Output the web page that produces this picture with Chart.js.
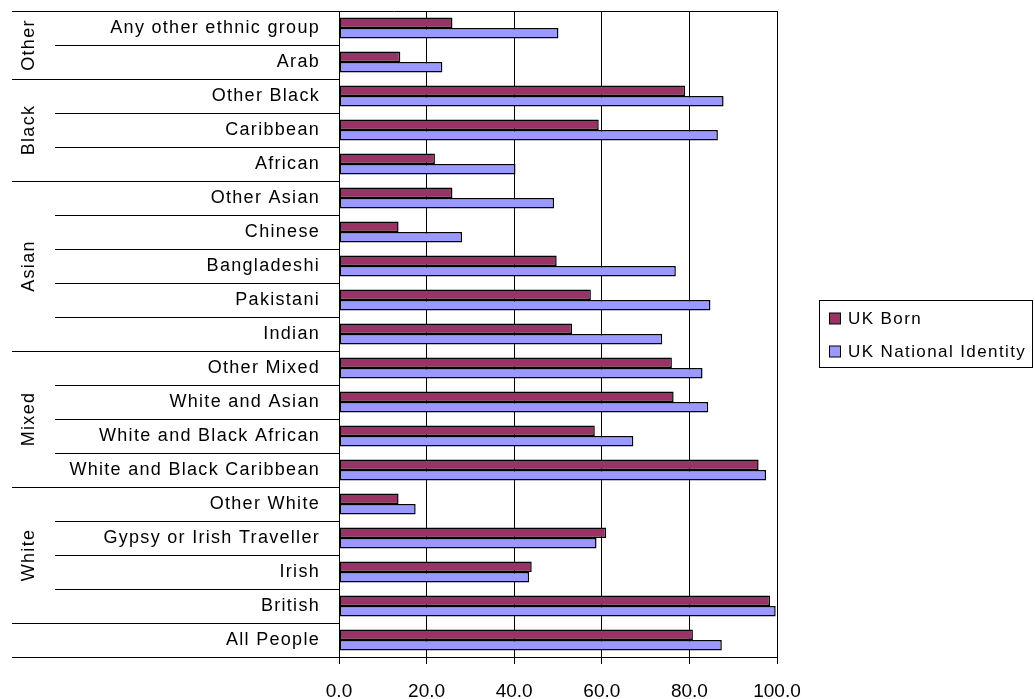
<!DOCTYPE html>
<html>
<head>
<meta charset="utf-8">
<script src="https://cdn.jsdelivr.net/npm/chart.js@4/dist/chart.umd.min.js"></script>
<style>
  html, body { margin: 0; padding: 0; background: #fff; }
  #wrap { width: 1035px; height: 699px; position: relative; }
</style>
</head>
<body>
<div id="wrap"><canvas id="chart"></canvas></div>
<script>
// top to bottom, as in the picture
const categories = [
    'Any other ethnic group', 'Arab',
    'Other Black', 'Caribbean', 'African',
    'Other Asian', 'Chinese', 'Bangladeshi', 'Pakistani', 'Indian',
    'Other Mixed', 'White and Asian', 'White and Black African', 'White and Black Caribbean',
    'Other White', 'Gypsy or Irish Traveller', 'Irish', 'British',
    'All People'
];

const groupNames = ['Other', 'Black', 'Asian', 'Mixed', 'White', ''];
const groupSizes = [2, 3, 5, 4, 4, 1];

const ukBorn = [25.9, 14.0, 79.0, 59.3, 21.9, 25.9, 13.6, 49.7, 57.5, 53.2, 76.0, 76.4, 58.4, 95.8, 13.6, 61.0, 44.0, 98.4, 80.8];
const ukNationalIdentity = [50.1, 23.6, 87.8, 86.5, 40.3, 49.1, 28.1, 76.9, 84.8, 73.8, 83.0, 84.3, 67.2, 97.5, 17.5, 58.8, 43.4, 99.7, 87.4];

const xTicks = [0, 20, 40, 60, 80, 100];

const seriesColors = {
    'UK Born': '#993366',
    'UK National Identity': '#9999ff'
};

const FONT = '"Liberation Sans", Arial, sans-serif';

// group boundaries (category index where a new group starts)
function groupStarts() {
    const starts = [0];
    let n = 0;
    groupSizes.forEach(s => { n += s; starts.push(n); });
    return starts;
}

const framePlugin = {
    id: 'frame',
    afterDraw(chart) {
        const { ctx, chartArea: ca, scales: { y } } = chart;
        const step = y.getPixelForValue(1) - y.getPixelForValue(0);
        const starts = groupStarts();
        const leftLong = 12;
        const leftShort = 55;

        ctx.save();
        ctx.strokeStyle = '#000';
        ctx.lineWidth = 1;

        // separators between categories / groups
        for (let i = 0; i <= categories.length; i++) {
            const py = Math.round(y.getPixelForValue(i) - step / 2) + 0.5;
            const x0 = starts.includes(i) ? leftLong : leftShort;
            const x1 = i === 0 ? ca.right : ca.left;
            ctx.beginPath();
            ctx.moveTo(x0, py);
            ctx.lineTo(x1, py);
            ctx.stroke();
        }

        // category labels
        ctx.fillStyle = '#000';
        ctx.font = '18px ' + FONT;
        ctx.letterSpacing = '1.3px';
        ctx.textAlign = 'right';
        ctx.textBaseline = 'middle';
        categories.forEach((c, i) => {
            ctx.fillText(c, 320, y.getPixelForValue(i));
        });

        // group labels, rotated
        ctx.textAlign = 'center';
        groupNames.forEach((g, k) => {
            if (!g) return;
            const a = y.getPixelForValue(starts[k]) - step / 2;
            const b = y.getPixelForValue(starts[k + 1] - 1) + step / 2;
            ctx.save();
            ctx.translate(29, (a + b) / 2);
            ctx.rotate(-Math.PI / 2);
            ctx.fillText(g, 0, 0);
            ctx.restore();
        });

        // legend
        const lx = 819.5, ly = 300.5, lw = 213, lh = 67;
        ctx.strokeRect(lx, ly, lw, lh);
        ctx.font = '17px ' + FONT;
        ctx.letterSpacing = '1.4px';
        ctx.textAlign = 'left';
        chart.data.datasets.forEach((ds, i) => {
            const cy = 319 + i * 33;
            ctx.fillStyle = ds.backgroundColor;
            ctx.fillRect(829.5, cy - 6, 11, 11);
            ctx.strokeRect(829.5, cy - 6, 11, 11);
            ctx.fillStyle = '#000';
            ctx.fillText(ds.label, 848, cy);
        });

        ctx.restore();
    }
};

new Chart(document.getElementById('chart'), {
    type: 'bar',
    data: {
        labels: categories,
        datasets: [
            {
                label: 'UK Born',
                data: ukBorn,
                backgroundColor: seriesColors['UK Born'],
                borderColor: '#000',
                borderWidth: 1.5,
                borderSkipped: false
            },
            {
                label: 'UK National Identity',
                data: ukNationalIdentity,
                backgroundColor: seriesColors['UK National Identity'],
                borderColor: '#000',
                borderWidth: 1.5,
                borderSkipped: false
            }
        ]
    },
    options: {
        indexAxis: 'y',
        responsive: true,
        maintainAspectRatio: false,
        animation: false,
        categoryPercentage: 0.62,
        barPercentage: 1.0,
        layout: {
            padding: { left: 339, right: 258, top: 11, bottom: 0 }
        },
        plugins: {
            legend: { display: false },
            tooltip: { enabled: false }
        },
        scales: {
            x: {
                min: 0,
                max: 100,
                afterBuildTicks: s => { s.ticks = xTicks.map(v => ({ value: v })); },
                afterFit: s => { s.height = 42; },
                ticks: {
                    callback: v => Number(v).toFixed(1),
                    color: '#000',
                    font: { family: FONT, size: 19 },
                    padding: 16,
                    maxRotation: 0
                },
                grid: { color: '#000', lineWidth: 1, tickLength: 7 },
                border: { color: '#000', width: 1 }
            },
            y: {
                afterFit: s => { s.width = 0; },
                ticks: { display: false },
                grid: { drawOnChartArea: false, drawTicks: false },
                border: { color: '#000', width: 1 }
            }
        }
    },
    plugins: [framePlugin]
});
</script>
</body>
</html>
